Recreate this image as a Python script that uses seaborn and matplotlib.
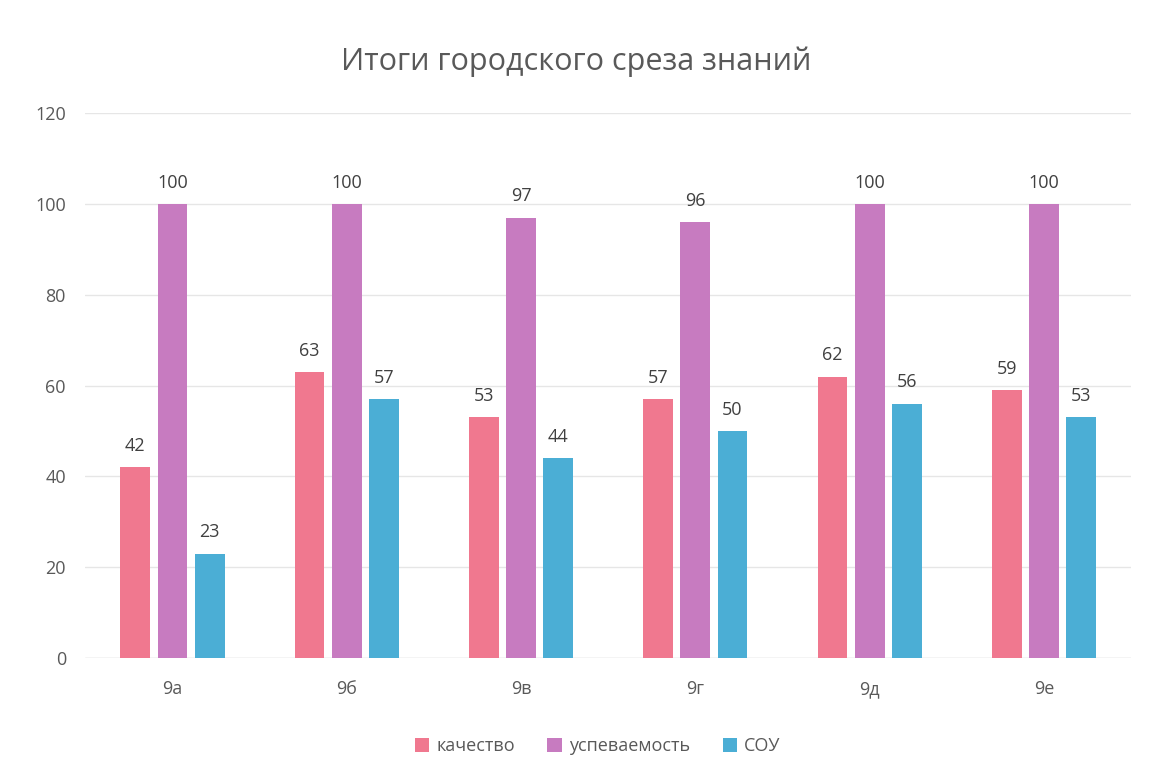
import matplotlib
matplotlib.use("Agg")
import matplotlib.pyplot as plt
import pandas as pd
import seaborn as sns

# данные с диаграммы
classes = ['9а', '9б', '9в', '9г', '9д', '9е']
kachestvo = [42, 63, 53, 57, 62, 59]
uspevaemost = [100, 100, 97, 96, 100, 100]
sou = [23, 57, 44, 50, 56, 53]
series_names = ['качество', 'успеваемость', 'СОУ']
colors = ['#F0788F', '#C77BC0', '#4BAED5']

df = pd.DataFrame({
    'класс': classes * 3,
    'серия': [series_names[0]] * 6 + [series_names[1]] * 6 + [series_names[2]] * 6,
    'значение': kachestvo + uspevaemost + sou,
})

sns.set_style('white')
plt.rcParams['font.family'] = ['Open Sans', 'DejaVu Sans']

fig = plt.figure(figsize=(11.53, 7.76), dpi=100)
ax = fig.add_axes([0.074, 0.152, 0.907, 0.702])

sns.barplot(data=df, x='класс', y='значение', hue='серия', order=classes,
            hue_order=series_names, palette=colors, width=0.64, gap=0.2,
            saturation=1, linewidth=0, ax=ax)

for cont in ax.containers:
    ax.bar_label(cont, fmt='%d', padding=9, fontsize=13, color='#404040')

ax.set_ylim(0, 120)
ax.set_yticks(range(0, 121, 20))
ax.yaxis.grid(True, color='#E6E6E6', linewidth=1)
ax.set_axisbelow(True)
sns.despine(ax=ax, left=True, bottom=True)
ax.axhline(0, color='#E0E0E0', linewidth=1, zorder=0)
ax.tick_params(axis='y', length=0, labelsize=13, labelcolor='#595959', pad=14)
ax.tick_params(axis='x', length=0, labelsize=13, labelcolor='#595959', pad=16)
ax.set_xlabel('')
ax.set_ylabel('')

fig.suptitle('Итоги городского среза знаний', y=0.94, fontsize=22, color='#595959')

handles, labels = ax.get_legend_handles_labels()
ax.legend(handles, labels, loc='upper center', bbox_to_anchor=(0.49, -0.115), ncol=3,
          frameon=False, fontsize=13, labelcolor='#595959', handlelength=0.8,
          handleheight=0.8, handletextpad=0.4, columnspacing=1.8)

fig.savefig('out.png', dpi=100)
